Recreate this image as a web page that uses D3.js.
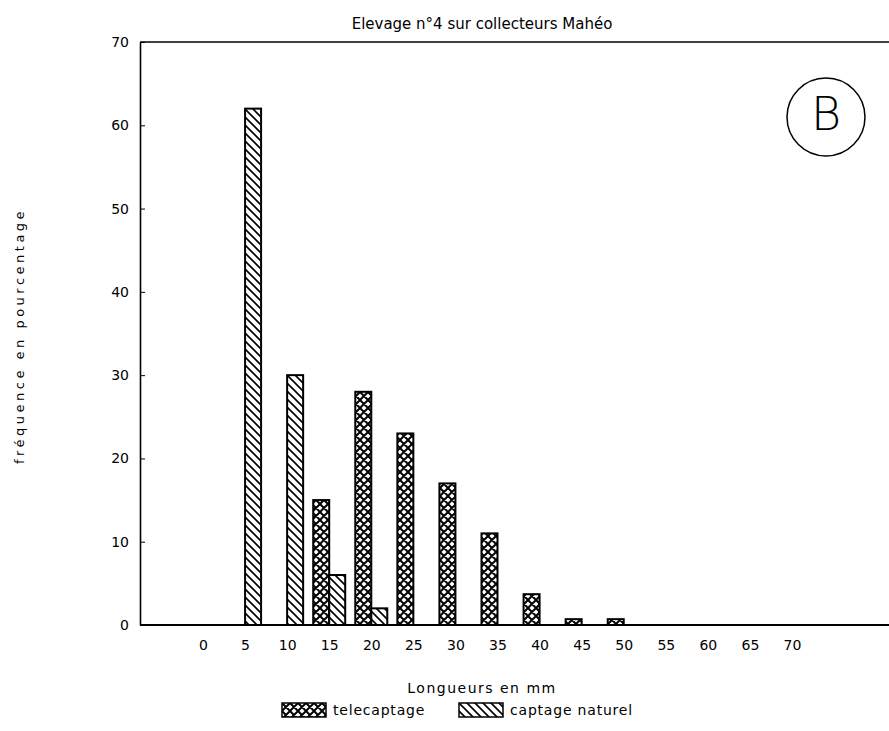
<!DOCTYPE html>
<html><head><meta charset="utf-8">
<script src="https://cdn.jsdelivr.net/npm/d3@7"></script>
<style>
body{margin:0;background:#fff}
text{font-family:"DejaVu Sans",sans-serif;fill:#000}
</style>
</head><body>
<svg id="c" width="889" height="731"></svg>
<script>
const categories = [0,5,10,15,20,25,30,35,40,45,50,55,60,65,70];
const telecaptage = [0,0,0,15,28,23,17,11,3.7,0.7,0.7,0,0,0,0];
const captageNaturel = [0,62,30,6,2,0,0,0,0,0,0,0,0,0,0];
const yTicks = [0,10,20,30,40,50,60,70];
const seriesNames = ["telecaptage","captage naturel"];
const title = "Elevage n°4 sur collecteurs Mahéo";
const xTitle = "Longueurs en mm";
const yTitle = "fréquence en pourcentage";

const svg = d3.select("#c");
const defs = svg.append("defs");

const pN = defs.append("pattern").attr("id","hatch").attr("patternUnits","userSpaceOnUse")
  .attr("width",8).attr("height",8);
pN.append("rect").attr("width",8).attr("height",8).attr("fill","#fff");
pN.append("path").attr("d","M0,0L8,8M-2,6L2,10M6,-2L10,2").attr("stroke","#000").attr("stroke-width",1.6);

const pT = defs.append("pattern").attr("id","cross").attr("patternUnits","userSpaceOnUse")
  .attr("width",8).attr("height",8);
pT.append("rect").attr("width",8).attr("height",8).attr("fill","#fff");
pT.append("path").attr("d","M0,0L8,8M-2,6L2,10M6,-2L10,2M8,0L0,8M-2,2L2,-2M6,10L10,6")
  .attr("stroke","#000").attr("stroke-width",2);

const x = d3.scalePoint().domain(categories).range([203, 792]);
const y = d3.scaleLinear().domain([0,70]).range([625,42]);
const bw = 16;

// frame lines
svg.append("line").attr("x1",140).attr("x2",889).attr("y1",y(70)).attr("y2",y(70)).attr("stroke","#000").attr("stroke-width",1.6);
svg.append("line").attr("x1",140).attr("x2",889).attr("y1",y(0)).attr("y2",y(0)).attr("stroke","#000").attr("stroke-width",2);

// y axis
const ya = svg.append("g").attr("transform","translate(140,0)")
  .call(d3.axisLeft(y).tickValues(yTicks).tickSizeInner(-5).tickSizeOuter(0).tickPadding(11));
ya.select(".domain").attr("stroke-width",1.6);
ya.selectAll("text").attr("font-size",14).style("font-family","DejaVu Sans");

// x axis labels
const xa = svg.append("g").attr("transform",`translate(0,${y(0)})`)
  .call(d3.axisBottom(x).tickSize(0).tickPadding(15));
xa.select(".domain").remove();
xa.selectAll("text").attr("font-size",14).style("font-family","DejaVu Sans");

// bars
const data = categories.map((c,i)=>({c, t:telecaptage[i], n:captageNaturel[i]}));
svg.append("g").selectAll("rect").data(data.filter(d=>d.t>0)).join("rect")
  .attr("x",d=>x(d.c)-bw).attr("width",bw)
  .attr("y",d=>y(d.t)).attr("height",d=>y(0)-y(d.t))
  .attr("fill","url(#cross)").attr("stroke","#000").attr("stroke-width",2);
svg.append("g").selectAll("rect").data(data.filter(d=>d.n>0)).join("rect")
  .attr("x",d=>x(d.c)).attr("width",bw)
  .attr("y",d=>y(d.n)).attr("height",d=>y(0)-y(d.n))
  .attr("fill","url(#hatch)").attr("stroke","#000").attr("stroke-width",2);

// titles
svg.append("text").attr("x",482).attr("y",29).attr("text-anchor","middle").attr("font-size",15).text(title);
svg.append("text").attr("x",482).attr("y",693).attr("text-anchor","middle").attr("font-size",14).attr("letter-spacing",1.5).text(xTitle);
svg.append("text").attr("transform","translate(24,336) rotate(-90)").attr("text-anchor","middle")
  .attr("font-size",13).attr("letter-spacing",3.5).text(yTitle);

// legend
const leg = [{name:seriesNames[0], fill:"url(#cross)", x:282},{name:seriesNames[1], fill:"url(#hatch)", x:459}];
const lg = svg.append("g").selectAll("g").data(leg).join("g").attr("transform",d=>`translate(${d.x},703)`);
lg.append("rect").attr("width",44).attr("height",14).attr("fill",d=>d.fill).attr("stroke","#000").attr("stroke-width",1.5);
lg.append("text").attr("x",51).attr("y",12).attr("font-size",14).attr("letter-spacing",0.8).text(d=>d.name);

// circled B
svg.append("circle").attr("cx",826).attr("cy",117).attr("r",39).attr("fill","none").attr("stroke","#000").attr("stroke-width",1.5);
svg.append("text").attr("x",826).attr("y",130).attr("text-anchor","middle").attr("font-size",46).attr("font-weight",200).text("B");
</script>
</body></html>
